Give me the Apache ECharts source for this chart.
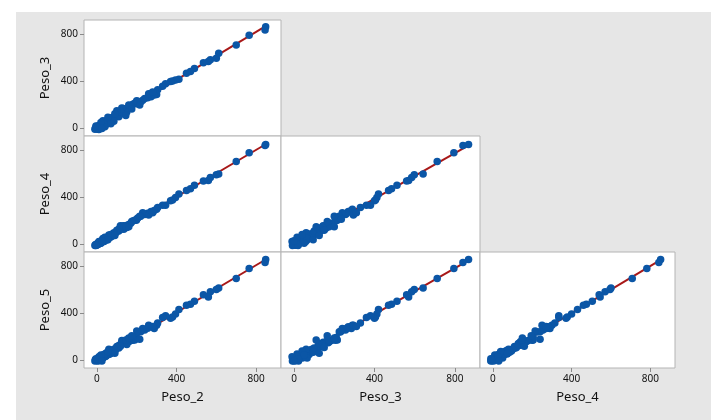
<!DOCTYPE html>
<html><head><meta charset="utf-8">
<script src="https://cdn.jsdelivr.net/npm/echarts@6/dist/echarts.min.js"></script>
<style>html,body{margin:0;padding:0;background:#fff}#c{width:711px;height:420px}</style>
</head><body><div id="c"></div>
<script>
// Variables (one entry per specimen)
const varNames = ['Peso_2','Peso_3','Peso_4','Peso_5'];
const peso2 = [848,845,765,700,612,600,570,560,535,490,470,450,412,395,380,370,345,330,305,300,288,272,255,240,230,220,205,198,190,180,170,160,148,140,132,128,120,115,108,100,95,90,85,80,75,70,68,65,60,58,55,50,48,45,42,40,38,35,32,30,28,25,22,20,18,15,12,10,8,5,3,0,-3,-5,-8,-10,60,110,135,150,62,52,44,36,26,16,6,2,125,118,100,85,30,40,70,55,145,200,215,260,280,20,10,-5,25,90,160,175];
const peso3 = [868,840,795,712,642,598,585,570,560,512,485,470,420,412,405,400,380,360,330,290,285,270,262,256,240,225,230,210,215,205,185,175,165,145,170,160,150,135,120,130,110,100,85,95,80,65,85,70,55,75,50,60,40,55,35,50,30,45,25,40,20,35,15,25,10,20,5,15,0,10,-5,5,-2,8,0,-8,90,100,125,140,48,66,30,58,42,28,22,-4,175,145,150,60,65,15,40,95,110,235,200,295,310,50,-10,20,0,125,200,165];
const peso4 = [852,843,782,708,600,595,570,545,540,505,475,460,430,400,378,372,335,335,315,300,290,280,265,255,270,240,225,205,205,200,180,170,162,155,160,140,130,140,125,110,100,95,90,85,70,75,60,72,65,55,60,45,55,40,50,35,42,30,38,25,32,20,28,15,22,10,18,5,12,0,8,-5,2,-8,-3,-10,80,115,130,145,70,40,52,24,34,12,4,-2,150,160,120,100,50,60,85,40,150,215,240,250,270,10,25,-10,30,75,150,195];
const peso5 = [862,835,785,698,618,605,585,540,560,505,480,470,435,395,370,360,380,365,320,300,272,286,275,260,272,245,243,195,175,172,170,160,165,155,150,160,140,130,125,118,95,80,90,70,85,60,75,55,65,50,70,45,60,35,55,40,30,50,25,40,20,30,35,15,25,10,20,5,15,0,12,-2,8,0,5,-5,95,105,145,135,58,62,38,46,20,30,-6,10,170,120,110,95,20,55,80,75,175,250,180,300,290,45,30,15,-5,60,190,210];
const data = [peso2, peso3, peso4, peso5];
const tickValues = [0, 400, 800];
const axisMin = -65, axisMax = 925;

// panel layout: [xVarIndex, yVarIndex, col, row]
const panels = [[0,1,0,0],[0,2,0,1],[1,2,1,1],[0,3,0,2],[1,3,1,2],[2,3,2,2]];
const colLeft = [84, 281, 480], colW = [197, 199, 195];
const rowTop = [20, 136, 252], rowH = 116;

const grids = [], xAxes = [], yAxes = [], series = [];
const font = '"Noto Sans", "Open Sans", sans-serif';
panels.forEach((p, i) => {
  const [xi, yi, c, r] = p;
  grids.push({left: colLeft[c], top: rowTop[r], width: colW[c], height: rowH,
    show: true, backgroundColor: '#ffffff', borderColor: '#b4b4b4', borderWidth: 1, containLabel: false});
  const bottomRow = r === 2, leftCol = c === 0;
  xAxes.push({type: 'value', gridIndex: i, min: axisMin, max: axisMax, position: 'bottom',
    name: bottomRow ? varNames[xi] : '', nameLocation: 'middle', nameGap: 23,
    nameTextStyle: {fontFamily: font, fontSize: 13, color: '#111'},
    axisLine: {show: false, onZero: false}, splitLine: {show: false},
    axisTick: {show: bottomRow, length: 4, lineStyle: {color: '#8a8a8a'}, customValues: tickValues},
    axisLabel: {show: bottomRow, fontFamily: font, fontSize: 10, color: '#111', margin: 6, customValues: tickValues}});
  yAxes.push({type: 'value', gridIndex: i, min: axisMin, max: axisMax, position: 'left',
    name: leftCol ? varNames[yi] : '', nameLocation: 'middle', nameGap: 32,
    nameTextStyle: {fontFamily: font, fontSize: 13, color: '#111'},
    axisLine: {show: false, onZero: false}, splitLine: {show: false},
    axisTick: {show: leftCol, length: 4, lineStyle: {color: '#8a8a8a'}, customValues: tickValues},
    axisLabel: {show: leftCol, fontFamily: font, fontSize: 10, color: '#111', margin: 6, customValues: tickValues}});
  const xs = data[xi], ys = data[yi];
  const pts = xs.map((v, k) => [v, ys[k]]);
  // least squares fit
  const n = xs.length;
  const mx = xs.reduce((a, b) => a + b, 0) / n, my = ys.reduce((a, b) => a + b, 0) / n;
  let sxy = 0, sxx = 0;
  for (let k = 0; k < n; k++) { sxy += (xs[k] - mx) * (ys[k] - my); sxx += (xs[k] - mx) ** 2; }
  const b = sxy / sxx, a = my - b * mx;
  const x0 = Math.min(...xs), x1 = Math.max(...xs);
  series.push({type: 'line', xAxisIndex: i, yAxisIndex: i, data: [[x0, a + b * x0], [x1, a + b * x1]],
    symbol: 'none', lineStyle: {color: '#a81818', width: 2}, silent: true, z: 2});
  series.push({type: 'scatter', xAxisIndex: i, yAxisIndex: i, data: pts, symbolSize: 7.5,
    itemStyle: {color: '#0b56a6', opacity: 1}, z: 3});
});

const chart = echarts.init(document.getElementById('c'), null, {renderer: 'canvas'});
chart.setOption({
  backgroundColor: '#ffffff',
  animation: false,
  graphic: [{type: 'rect', z: -10, shape: {x: 16, y: 12, width: 695, height: 408}, style: {fill: '#e6e6e6'}}],
  grid: grids, xAxis: xAxes, yAxis: yAxes, series: series
});
</script></body></html>
